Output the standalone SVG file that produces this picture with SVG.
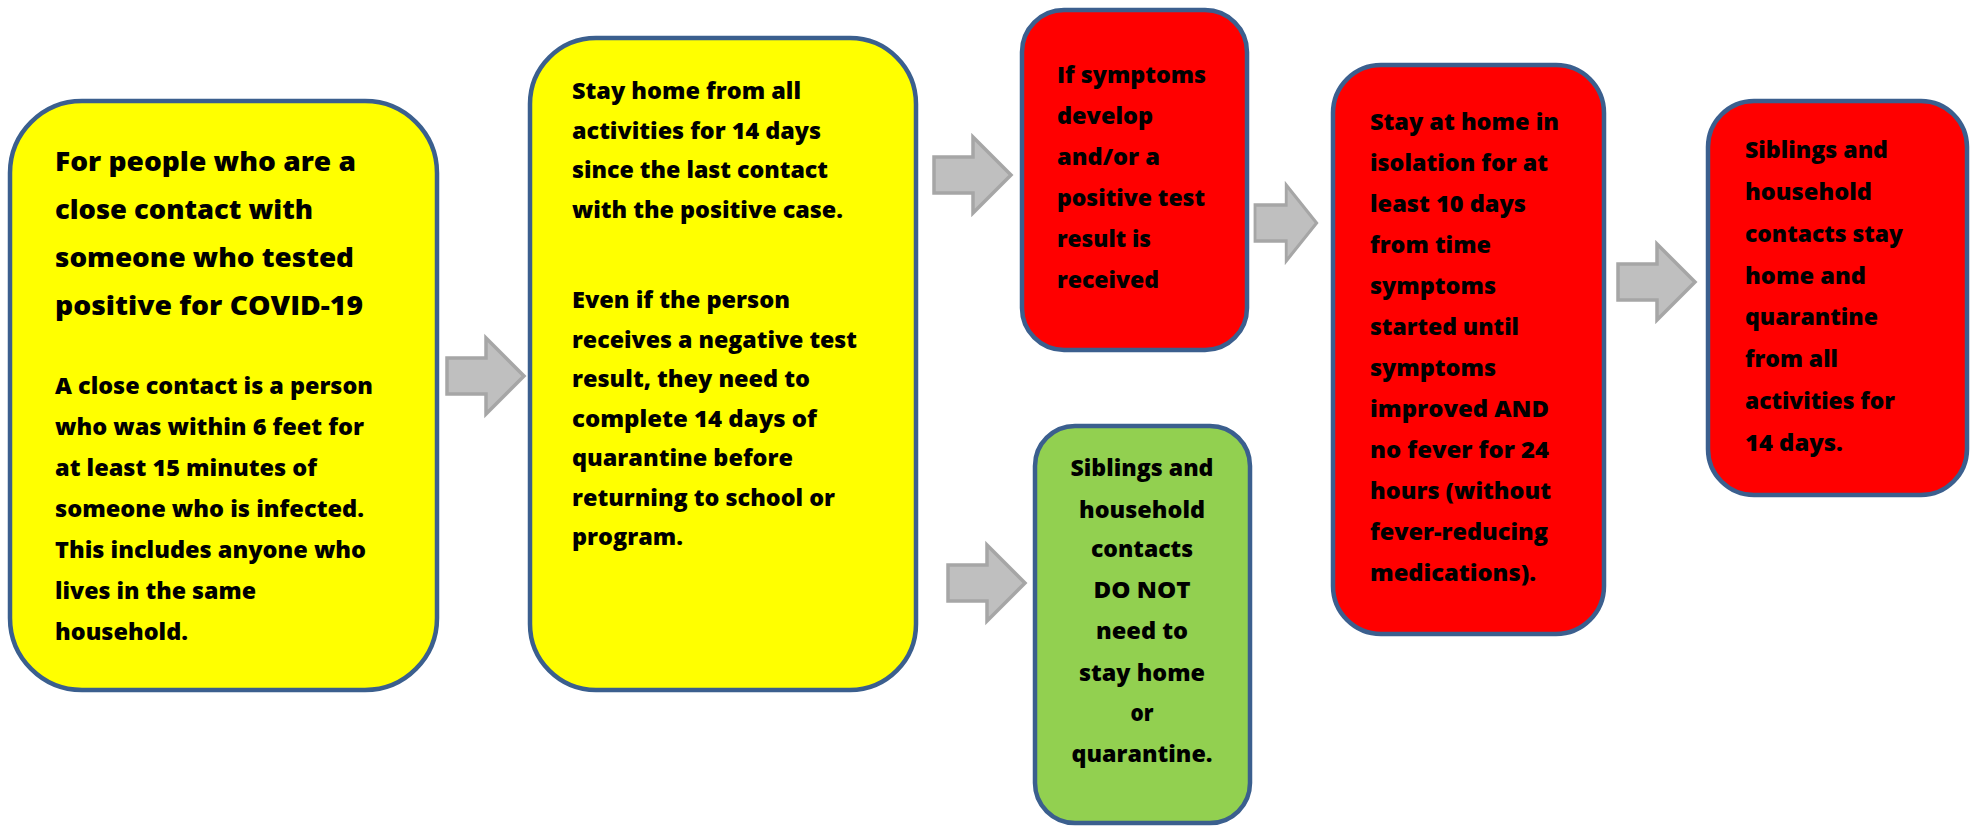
<svg xmlns="http://www.w3.org/2000/svg" width="1975" height="827" viewBox="0 0 1975 827">
<style>
.box{stroke:#3B5F8E;stroke-width:4.5}
.y{fill:#FFFF00}.r{fill:#FF0000}.g{fill:#92D050}
text{font-family:"Open Sans",Lato,"Liberation Sans",sans-serif;font-weight:800;fill:#000;font-size:23.5px}
.t{font-size:27px}
.c{text-anchor:middle}
.arr{fill:#BFBFBF;stroke:#A6A6A6;stroke-width:3.5;stroke-linejoin:miter}
</style>
<defs>
<path id="ar" d="M0,20 H39 V0 L77,38 L39,76 V56 H0 Z"/>
</defs>
<g id="connectors">
<use href="#ar" class="arr" transform="translate(447,338)"/>
<use href="#ar" class="arr" transform="translate(934,137)"/>
<use href="#ar" class="arr" transform="translate(948,545)"/>
<use href="#ar" class="arr" transform="translate(1255,185) scale(0.8,1)"/>
<use href="#ar" class="arr" transform="translate(1618,244)"/>
</g>
<g id="n1">
<rect class="box y" x="10" y="101" width="427" height="589" rx="72"/>
<text class="t" x="55" y="171" textLength="301" lengthAdjust="spacingAndGlyphs">For people who are a</text>
<text class="t" x="55" y="219" textLength="258" lengthAdjust="spacingAndGlyphs">close contact with</text>
<text class="t" x="55" y="267" textLength="299" lengthAdjust="spacingAndGlyphs">someone who tested</text>
<text class="t" x="55" y="315" textLength="308" lengthAdjust="spacingAndGlyphs">positive for COVID-19</text>
<text x="55" y="394" textLength="318" lengthAdjust="spacingAndGlyphs">A close contact is a person</text>
<text x="55" y="435" textLength="309" lengthAdjust="spacingAndGlyphs">who was within 6 feet for</text>
<text x="55" y="476" textLength="262" lengthAdjust="spacingAndGlyphs">at least 15 minutes of</text>
<text x="55" y="517" textLength="309" lengthAdjust="spacingAndGlyphs">someone who is infected.</text>
<text x="55" y="558" textLength="311" lengthAdjust="spacingAndGlyphs">This includes anyone who</text>
<text x="55" y="599" textLength="201" lengthAdjust="spacingAndGlyphs">lives in the same</text>
<text x="55" y="640" textLength="133" lengthAdjust="spacingAndGlyphs">household.</text>
</g>
<g id="n2">
<rect class="box y" x="530" y="38" width="386" height="652" rx="66"/>
<text x="572" y="99" textLength="229" lengthAdjust="spacingAndGlyphs">Stay home from all</text>
<text x="572" y="139" textLength="249" lengthAdjust="spacingAndGlyphs">activities for 14 days</text>
<text x="572" y="178" textLength="256" lengthAdjust="spacingAndGlyphs">since the last contact</text>
<text x="572" y="218" textLength="271" lengthAdjust="spacingAndGlyphs">with the positive case.</text>
<text x="572" y="308" textLength="218" lengthAdjust="spacingAndGlyphs">Even if the person</text>
<text x="572" y="348" textLength="285" lengthAdjust="spacingAndGlyphs">receives a negative test</text>
<text x="572" y="387" textLength="238" lengthAdjust="spacingAndGlyphs">result, they need to</text>
<text x="572" y="427" textLength="245" lengthAdjust="spacingAndGlyphs">complete 14 days of</text>
<text x="572" y="466" textLength="221" lengthAdjust="spacingAndGlyphs">quarantine before</text>
<text x="572" y="506" textLength="263" lengthAdjust="spacingAndGlyphs">returning to school or</text>
<text x="572" y="545" textLength="111" lengthAdjust="spacingAndGlyphs">program.</text>
</g>
<g id="n3">
<rect class="box r" x="1022" y="10" width="225" height="340" rx="42"/>
<text x="1057" y="83" textLength="149" lengthAdjust="spacingAndGlyphs">If symptoms</text>
<text x="1057" y="124" textLength="96" lengthAdjust="spacingAndGlyphs">develop</text>
<text x="1057" y="165" textLength="103" lengthAdjust="spacingAndGlyphs">and/or a</text>
<text x="1057" y="206" textLength="148" lengthAdjust="spacingAndGlyphs">positive test</text>
<text x="1057" y="247" textLength="94" lengthAdjust="spacingAndGlyphs">result is</text>
<text x="1057" y="288" textLength="102" lengthAdjust="spacingAndGlyphs">received</text>
</g>
<g id="n4">
<rect class="box g" x="1035" y="426" width="215" height="397" rx="40"/>
<text class="c" x="1142" y="476" textLength="143" lengthAdjust="spacingAndGlyphs">Siblings and</text>
<text class="c" x="1142" y="518" textLength="126" lengthAdjust="spacingAndGlyphs">household</text>
<text class="c" x="1142" y="557" textLength="102" lengthAdjust="spacingAndGlyphs">contacts</text>
<text class="c" x="1142" y="598" textLength="97" lengthAdjust="spacingAndGlyphs">DO NOT</text>
<text class="c" x="1142" y="639" textLength="92" lengthAdjust="spacingAndGlyphs">need to</text>
<text class="c" x="1142" y="681" textLength="126" lengthAdjust="spacingAndGlyphs">stay home</text>
<text class="c" x="1142" y="721" textLength="23" lengthAdjust="spacingAndGlyphs">or</text>
<text class="c" x="1142" y="762" textLength="141" lengthAdjust="spacingAndGlyphs">quarantine.</text>
</g>
<g id="n5">
<rect class="box r" x="1333" y="65" width="271" height="569" rx="48"/>
<text x="1370" y="130" textLength="189" lengthAdjust="spacingAndGlyphs">Stay at home in</text>
<text x="1370" y="171" textLength="178" lengthAdjust="spacingAndGlyphs">isolation for at</text>
<text x="1370" y="212" textLength="156" lengthAdjust="spacingAndGlyphs">least 10 days</text>
<text x="1370" y="253" textLength="121" lengthAdjust="spacingAndGlyphs">from time</text>
<text x="1370" y="294" textLength="126" lengthAdjust="spacingAndGlyphs">symptoms</text>
<text x="1370" y="335" textLength="149" lengthAdjust="spacingAndGlyphs">started until</text>
<text x="1370" y="376" textLength="126" lengthAdjust="spacingAndGlyphs">symptoms</text>
<text x="1370" y="417" textLength="179" lengthAdjust="spacingAndGlyphs">improved AND</text>
<text x="1370" y="458" textLength="179" lengthAdjust="spacingAndGlyphs">no fever for 24</text>
<text x="1370" y="499" textLength="181" lengthAdjust="spacingAndGlyphs">hours (without</text>
<text x="1370" y="540" textLength="178" lengthAdjust="spacingAndGlyphs">fever-reducing</text>
<text x="1370" y="581" textLength="166" lengthAdjust="spacingAndGlyphs">medications).</text>
</g>
<g id="n6">
<rect class="box r" x="1708" y="101" width="259" height="394" rx="46"/>
<text x="1745" y="158" textLength="143" lengthAdjust="spacingAndGlyphs">Siblings and</text>
<text x="1745" y="200" textLength="127" lengthAdjust="spacingAndGlyphs">household</text>
<text x="1745" y="242" textLength="158" lengthAdjust="spacingAndGlyphs">contacts stay</text>
<text x="1745" y="284" textLength="121" lengthAdjust="spacingAndGlyphs">home and</text>
<text x="1745" y="325" textLength="133" lengthAdjust="spacingAndGlyphs">quarantine</text>
<text x="1745" y="367" textLength="93" lengthAdjust="spacingAndGlyphs">from all</text>
<text x="1745" y="409" textLength="150" lengthAdjust="spacingAndGlyphs">activities for</text>
<text x="1745" y="451" textLength="98" lengthAdjust="spacingAndGlyphs">14 days.</text>
</g>
</svg>
